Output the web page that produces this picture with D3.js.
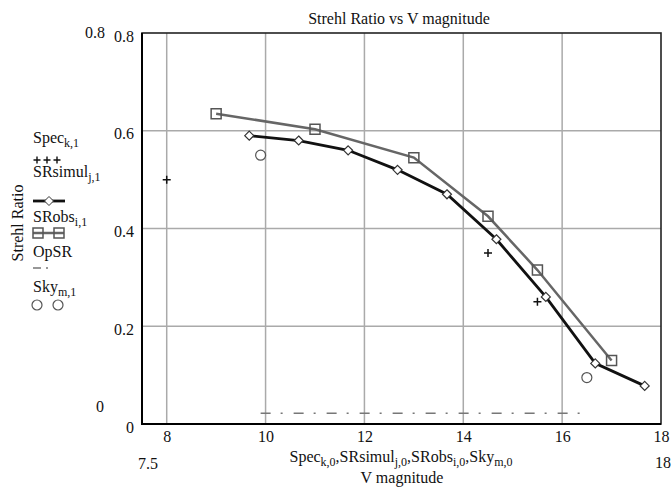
<!DOCTYPE html>
<html lang="en">
<head>
<meta charset="UTF-8">
<title>Strehl Ratio vs V magnitude</title>
<script src="https://d3js.org/d3.v7.min.js"></script>
<style>
  body { margin: 0; background: #fff; }
  svg text { font-family: "Liberation Serif", "DejaVu Serif", serif; font-size: 16px; fill: #111; }
  .grid line { stroke: #aaa; stroke-width: 1.5px; }
  .axis path, .axis line { display: none; }
</style>
</head>
<body>
<script>
// data
const specX = [8, 14.5, 15.5];
const specY = [0.5, 0.35, 0.25];

const simulX = [9.67, 10.67, 11.67, 12.67, 13.67, 14.67, 15.67, 16.67, 17.67];
const simulY = [0.59, 0.58, 0.56, 0.52, 0.47, 0.378, 0.26, 0.124, 0.078];

const obsX = [9, 11, 13, 14.5, 15.5, 17];
const obsY = [0.635, 0.603, 0.545, 0.425, 0.315, 0.13];

const opX = [9.9, 16.5];
const opY = [0.022, 0.022];

const skyX = [9.9, 16.5];
const skyY = [0.55, 0.095];

const xTicks = [8, 10, 12, 14, 16, 18];
const yTicks = [0, 0.2, 0.4, 0.6, 0.8];
const xLimits = ["7.5", "18"];
const yLimits = ["0.8", "0"];

const zip = (xs, ys) => xs.map((x, i) => ({x: x, y: ys[i]}));

const width = 672, height = 493;
const svg = d3.select("body").append("svg")
  .attr("width", width).attr("height", height);

const x = d3.scaleLinear().domain([7.5, 18]).range([142, 661]);
const y = d3.scaleLinear().domain([0, 0.8]).range([424, 33]);

// grid
const grid = svg.append("g").attr("class", "grid");
grid.selectAll(".vx").data(xTicks.filter(d => d < 18)).enter().append("line")
  .attr("x1", d => x(d)).attr("x2", d => x(d))
  .attr("y1", y(0.8)).attr("y2", y(0));
grid.selectAll(".hy").data(yTicks.filter(d => d > 0 && d < 0.8)).enter().append("line")
  .attr("x1", x(7.5)).attr("x2", x(18))
  .attr("y1", d => y(d)).attr("y2", d => y(d));

// frame
svg.append("rect")
  .attr("x", x(7.5)).attr("y", y(0.8))
  .attr("width", x(18) - x(7.5)).attr("height", y(0) - y(0.8))
  .attr("fill", "none").attr("stroke", "#222").attr("stroke-width", 1.6);
svg.append("path")
  .attr("d", `M${x(7.5)},${y(0.8)}V${y(0)}H${x(18)}`)
  .attr("fill", "none").attr("stroke", "#000").attr("stroke-width", 2);

// axes (drop d3's default sans font so the serif css applies)
svg.append("g").attr("class", "axis")
  .attr("transform", `translate(0,${y(0)})`)
  .call(d3.axisBottom(x).tickValues(xTicks).tickSize(0).tickPadding(7).tickFormat(d3.format("d")))
  .attr("font-family", null).attr("font-size", null);

svg.append("g").attr("class", "axis")
  .attr("transform", `translate(${x(7.5)},0)`)
  .call(d3.axisLeft(y).tickValues(yTicks).tickSize(0).tickPadding(8).tickFormat(d => String(d)))
  .attr("font-family", null).attr("font-size", null)
  .selectAll("text").attr("dy", "0.5em");

// axis limit labels
svg.append("text").attr("x", 105).attr("y", y(0.8) + 5).attr("text-anchor", "end").text(yLimits[0]);
svg.append("text").attr("x", 104).attr("y", 412).attr("text-anchor", "end").text(yLimits[1]);
svg.append("text").attr("x", 148).attr("y", 469).attr("text-anchor", "middle").text(xLimits[0]);
svg.append("text").attr("x", 663).attr("y", 468).attr("text-anchor", "middle").text(xLimits[1]);

// title
svg.append("text").attr("x", 399).attr("y", 24).attr("text-anchor", "middle")
  .text("Strehl Ratio vs V magnitude");

// text with subscripts
function subText(t, parts) {
  let down = false;
  parts.forEach(p => {
    const s = t.append("tspan");
    if (p.sub) {
      s.attr("font-size", 12).attr("dy", 3.5).text(p.sub);
      down = true;
    } else {
      if (down) s.attr("dy", -3.5);
      down = false;
      s.text(p.t);
    }
  });
}
const xl = svg.append("text").attr("x", 401).attr("y", 462).attr("text-anchor", "middle");
subText(xl, [{t: "Spec"}, {sub: "k,0"}, {t: ","}, {t: "SRsimul"}, {sub: "j,0"}, {t: ","},
  {t: "SRobs"}, {sub: "i,0"}, {t: ","}, {t: "Sky"}, {sub: "m,0"}]);
svg.append("text").attr("x", 402).attr("y", 483).attr("text-anchor", "middle").text("V magnitude");

// y axis label
svg.append("text").attr("transform", "translate(23,223) rotate(-90)")
  .attr("text-anchor", "middle").text("Strehl Ratio");

// series
const line = d3.line().x(d => x(d.x)).y(d => y(d.y));

svg.append("path").datum(zip(opX, opY))
  .attr("d", line).attr("fill", "none").attr("stroke", "#777")
  .attr("stroke-width", 1.5).attr("stroke-dasharray", "10,10,2,11");

svg.append("path").datum(zip(obsX, obsY))
  .attr("d", line).attr("fill", "none").attr("stroke", "#666").attr("stroke-width", 2.5);

svg.append("path").datum(zip(simulX, simulY))
  .attr("d", line).attr("fill", "none").attr("stroke", "#111").attr("stroke-width", 2.8);

const diamond = (cx, cy, r) => `M${cx},${cy - r}L${cx + r},${cy}L${cx},${cy + r}L${cx - r},${cy}Z`;
const square = (cx, cy, r) => `M${cx - r},${cy - r}H${cx + r}V${cy + r}H${cx - r}Z`;
const plus = (cx, cy, r) => `M${cx - r},${cy}H${cx + r}M${cx},${cy - r}V${cy + r}`;

svg.selectAll(".obs").data(zip(obsX, obsY)).enter().append("path")
  .attr("d", d => square(x(d.x), y(d.y), 5))
  .attr("fill", "none").attr("stroke", "#555").attr("stroke-width", 1.5);

svg.selectAll(".sim").data(zip(simulX, simulY)).enter().append("path")
  .attr("d", d => diamond(x(d.x), y(d.y), 4.5))
  .attr("fill", "#fff").attr("stroke", "#333").attr("stroke-width", 1.2);

svg.selectAll(".spec").data(zip(specX, specY)).enter().append("path")
  .attr("d", d => plus(x(d.x), y(d.y), 4))
  .attr("fill", "none").attr("stroke", "#111").attr("stroke-width", 1.5);

svg.selectAll(".sky").data(zip(skyX, skyY)).enter().append("circle")
  .attr("cx", d => x(d.x)).attr("cy", d => y(d.y)).attr("r", 5)
  .attr("fill", "none").attr("stroke", "#555").attr("stroke-width", 1.2);

// legend
const lg = svg.append("g");
function legendLabel(yb, name, sub) {
  const t = lg.append("text").attr("x", 33).attr("y", yb);
  subText(t, sub ? [{t: name}, {sub: sub}] : [{t: name}]);
}
legendLabel(143, "Spec", "k,1");
legendLabel(177, "SRsimul", "j,1");
legendLabel(222, "SRobs", "i,1");
legendLabel(257, "OpSR", null);
legendLabel(292, "Sky", "m,1");

[37, 47, 57].forEach(cx => lg.append("path").attr("d", plus(cx, 160, 3.5))
  .attr("stroke", "#111").attr("stroke-width", 1.4));

lg.append("line").attr("x1", 33).attr("x2", 65).attr("y1", 201).attr("y2", 201)
  .attr("stroke", "#111").attr("stroke-width", 2.8);
lg.append("path").attr("d", diamond(49, 201, 4.5)).attr("fill", "#fff").attr("stroke", "#333");

lg.append("line").attr("x1", 33).attr("x2", 64).attr("y1", 233).attr("y2", 233)
  .attr("stroke", "#666").attr("stroke-width", 2.5);
[38, 59].forEach(cx => lg.append("path").attr("d", square(cx, 233, 5))
  .attr("fill", "none").attr("stroke", "#555").attr("stroke-width", 1.5));

lg.append("line").attr("x1", 33).attr("x2", 50).attr("y1", 268).attr("y2", 268)
  .attr("stroke", "#777").attr("stroke-width", 1.5).attr("stroke-dasharray", "8,5,2,20");

[37, 58].forEach(cx => lg.append("circle").attr("cx", cx).attr("cy", 305).attr("r", 5)
  .attr("fill", "none").attr("stroke", "#555").attr("stroke-width", 1.2));
</script>
</body>
</html>
